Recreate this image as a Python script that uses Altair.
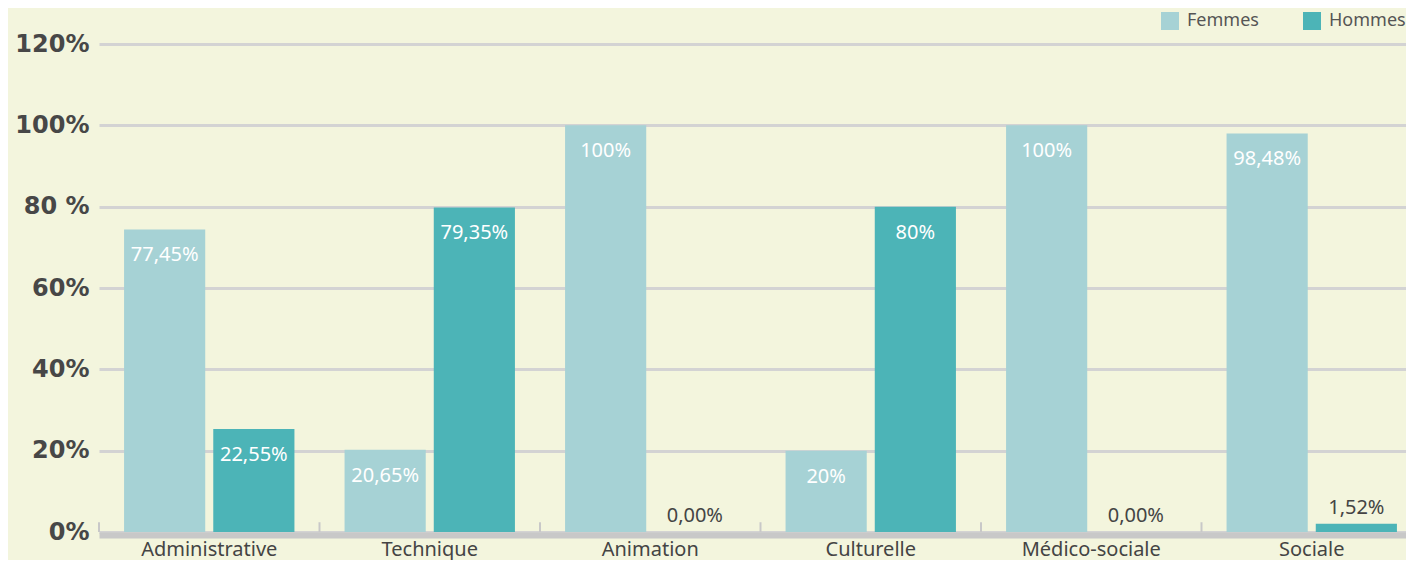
import altair as alt
import pandas as pd

categories = ["Administrative", "Technique", "Animation", "Culturelle", "Médico-sociale", "Sociale"]
series = ["Femmes", "Hommes"]
femmes_values = [74.4, 20.2, 100, 20, 100, 98.0]
hommes_values = [25.3, 79.8, 0, 80, 0, 2.0]
femmes_labels = ["77,45%", "20,65%", "100%", "20%", "100%", "98,48%"]
hommes_labels = ["22,55%", "79,35%", "0,00%", "80%", "0,00%", "1,52%"]
y_ticks = [0, 20, 40, 60, 80, 100, 120]
y_tick_labels = ["0%", "20%", "40%", "60%", "80 %", "100%", "120%"]
colors = ["#A6D2D5", "#4CB4B7"]

rows = []
for i, c in enumerate(categories):
    rows.append(dict(cat=c, sexe="Femmes", val=femmes_values[i], label=femmes_labels[i]))
    rows.append(dict(cat=c, sexe="Hommes", val=hommes_values[i], label=hommes_labels[i]))
df = pd.DataFrame(rows)
df["inside"] = df["val"] > 10

ticks_df = pd.DataFrame({"cat": categories, "y0": [0] * len(categories), "y1": [2.4] * len(categories)})

label_expr = ""
for v, t in zip(y_ticks, y_tick_labels):
    label_expr += f"datum.value == {v} ? '{t}' : "
label_expr += "''"

PLOT_W = 1307
PLOT_H = 488
BAND_RANGE = 1323

x_scale = alt.Scale(paddingInner=0, paddingOuter=0, range=[0, BAND_RANGE])
x_enc = alt.X(
    "cat:N",
    sort=categories,
    scale=x_scale,
    axis=alt.Axis(
        title=None, labelAngle=0, domainColor="#C8C8C8", domainWidth=6, offset=3,
        ticks=False, labelPadding=4, labelFont="Noto Sans", labelFontSize=20,
        labelColor="#444444", grid=False,
    ),
)
y_scale = alt.Scale(domain=[0, 120], nice=False)
y_enc = alt.Y(
    "val:Q",
    scale=y_scale,
    axis=alt.Axis(
        title=None, values=y_ticks, labelExpr=label_expr, domain=False, ticks=False,
        labelPadding=10, labelFont="DejaVu Sans", labelFontWeight="bold", labelFontSize=24,
        labelColor="#474747", grid=True, gridColor="#D3D3D3", gridWidth=3,
    ),
)
xoff = alt.XOffset("sexe:N", sort=series, scale=alt.Scale(paddingInner=0.09, paddingOuter=0.281))

base = alt.Chart(df)

bars = base.mark_bar().encode(
    x=x_enc,
    xOffset=xoff,
    y=y_enc,
    color=alt.Color(
        "sexe:N",
        sort=series,
        scale=alt.Scale(domain=series, range=colors),
        legend=alt.Legend(
            title=None, orient="none", legendX=1062, legendY=-32, direction="horizontal",
            symbolType="square", symbolSize=324, symbolStrokeWidth=0, labelFont="Noto Sans",
            labelFontSize=18, labelColor="#555555", labelOffset=8, columnPadding=44, padding=0,
        ),
    ),
)

text_in = base.transform_filter("datum.inside").mark_text(
    font="Noto Sans", fontSize=20, color="white", baseline="middle", dy=26
).encode(x=alt.X("cat:N", sort=categories), xOffset=xoff, y=alt.Y("val:Q"), text="label:N")

text_out = base.transform_filter("!datum.inside").mark_text(
    font="Noto Sans", fontSize=20, color="#444444", baseline="middle", dy=-16
).encode(x=alt.X("cat:N", sort=categories), xOffset=xoff, y=alt.Y("val:Q"), text="label:N")

tick_rules = alt.Chart(ticks_df).mark_rule(color="#C8C8C8", strokeWidth=2).encode(
    x=alt.X("cat:N", sort=categories, bandPosition=0),
    y=alt.Y("y0:Q"),
    y2="y1:Q",
)

chart = alt.layer(bars, tick_rules, text_in, text_out).properties(
    width=PLOT_W,
    height=PLOT_H,
    background="#F3F5DD",
    autosize=alt.AutoSizeParams(type="none"),
    padding={"left": 91, "top": 36, "right": 0, "bottom": 28},
).configure_view(stroke=None)

chart.save("out.html", embed_options={"renderer": "svg", "actions": False})
